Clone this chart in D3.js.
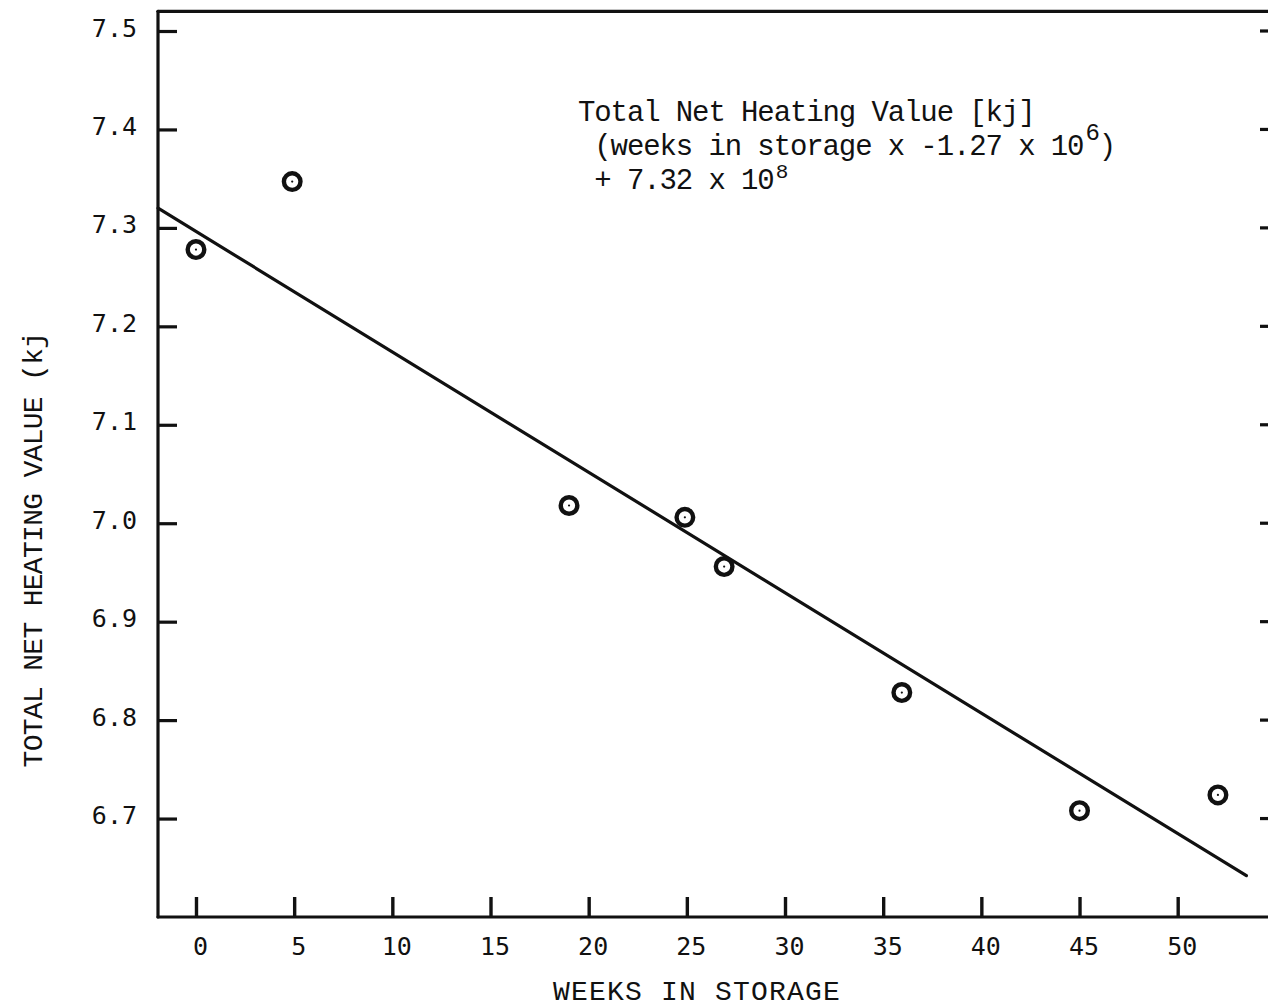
<!DOCTYPE html>
<html>
<head>
<meta charset="utf-8">
<script src="https://cdn.jsdelivr.net/npm/d3@7"></script>
<style>
  html, body { margin: 0; padding: 0; background: #fff; }
  svg { display: block; }
</style>
</head>
<body>
<svg id="chart" width="1268" height="1007"></svg>
<script>
// Weeks in storage and measured total net heating value (x 10^8 kJ)
const weeks = [0, 4.9, 19, 24.9, 26.9, 35.95, 45, 52.05];
const heatingValues = [7.278, 7.347, 7.018, 7.006, 6.956, 6.828, 6.708, 6.724];

// Least-squares fit line, drawn between these end points
const fitWeeks = [-1.93, 53.5];
const fitValues = [7.32, 6.642];

const xTicks = [0, 5, 10, 15, 20, 25, 30, 35, 40, 45, 50];
const yTicks = [6.7, 6.8, 6.9, 7.0, 7.1, 7.2, 7.3, 7.4, 7.5];

const xDomain = [-1.935, 54.6];
const yDomain = [6.6, 7.5];
const yTop = 7.52;

const svg = d3.select("#chart");
const ink = "#111";

const x = d3.scaleLinear().domain(xDomain).range([158, 1268]);
const y = d3.scaleLinear().domain(yDomain).range([917, 31]);

const monoSans = "'DejaVu Sans Mono', monospace";
const typewriter = "'Liberation Mono', 'Courier New', monospace";

// Frame: left axis, bottom axis and top rule
const frame = svg.append("g").attr("stroke", ink).attr("stroke-width", 3.2)
  .attr("stroke-linecap", "round").attr("fill", "none");
frame.append("line").attr("x1", x(xDomain[0])).attr("x2", x(xDomain[0]))
  .attr("y1", y(yTop)).attr("y2", y(yDomain[0]));
frame.append("line").attr("x1", x(xDomain[0])).attr("x2", x(xDomain[1]))
  .attr("y1", y(yDomain[0])).attr("y2", y(yDomain[0]));
frame.append("line").attr("x1", x(xDomain[0])).attr("x2", x(xDomain[1]))
  .attr("y1", y(yTop)).attr("y2", y(yTop));

// Left axis: inward ticks, labels outside
const yAxis = d3.axisLeft(y).tickValues(yTicks).tickFormat(d3.format(".1f"))
  .tickSizeInner(-19).tickSizeOuter(0).tickPadding(21);
const gy = svg.append("g").attr("transform", `translate(${x(xDomain[0])},0)`).call(yAxis);
gy.select(".domain").remove();
gy.selectAll(".tick line").attr("stroke", ink).attr("stroke-width", 3.2);
gy.selectAll(".tick text").attr("fill", ink).attr("font-family", monoSans)
  .attr("font-size", 25).attr("dy", "0.2em").attr("dx", "0");

// Right side tick stubs
svg.append("g").selectAll("line").data(yTicks).join("line")
  .attr("x1", 1260).attr("x2", 1272)
  .attr("y1", d => y(d)).attr("y2", d => y(d))
  .attr("stroke", ink).attr("stroke-width", 3.2);

// Bottom axis: upward ticks
const xAxis = d3.axisBottom(x).tickValues(xTicks).tickFormat(d3.format("d"))
  .tickSizeInner(-20).tickSizeOuter(0).tickPadding(20);
const gx = svg.append("g").attr("transform", `translate(0,${y(yDomain[0])})`).call(xAxis);
gx.select(".domain").remove();
gx.selectAll(".tick line").attr("stroke", ink).attr("stroke-width", 3.4);
gx.selectAll(".tick text").attr("fill", ink).attr("font-family", monoSans)
  .attr("font-size", 25).attr("dx", 4);

// Regression line
const line = d3.line().x(d => x(d[0])).y(d => y(d[1]));
svg.append("path")
  .datum(d3.zip(fitWeeks, fitValues))
  .attr("d", line)
  .attr("fill", "none").attr("stroke", ink).attr("stroke-width", 3.2)
  .attr("stroke-linecap", "round");

// Observations: open circles with a centre dot
const pts = svg.append("g").selectAll("g").data(d3.zip(weeks, heatingValues)).join("g")
  .attr("transform", d => `translate(${x(d[0])},${y(d[1])})`);
pts.append("circle").attr("r", 8.3).attr("fill", "#fff")
  .attr("stroke", ink).attr("stroke-width", 4.4);
pts.append("circle").attr("r", 1.1).attr("fill", ink);

// Fit equation
const eq = svg.append("g").attr("font-family", typewriter).attr("font-size", 29)
  .attr("letter-spacing", -1.1).attr("fill", ink);
eq.append("text").attr("x", 578).attr("y", 121).text("Total Net Heating Value [kj]");
const l2 = eq.append("text").attr("x", 578).attr("y", 155).attr("xml:space", "preserve");
l2.append("tspan").text(" (weeks in storage x -1.27 x 10");
l2.append("tspan").attr("dx", 2).attr("dy", -15).attr("font-size", 24).text("6");
l2.append("tspan").attr("dy", 15).text(")");
const l3 = eq.append("text").attr("x", 578).attr("y", 189).attr("xml:space", "preserve");
l3.append("tspan").text(" + 7.32 x 10");
l3.append("tspan").attr("dx", 2).attr("dy", -11).attr("font-size", 21).text("8");

// Axis titles
svg.append("text")
  .attr("transform", "translate(42,550) rotate(-90)")
  .attr("text-anchor", "middle")
  .attr("font-family", typewriter).attr("font-size", 28)
  .attr("letter-spacing", -0.7).attr("fill", ink)
  .text("TOTAL NET HEATING VALUE (kj");

svg.append("text")
  .attr("x", 697).attr("y", 1000)
  .attr("text-anchor", "middle")
  .attr("font-family", typewriter).attr("font-size", 28)
  .attr("letter-spacing", 1.2).attr("fill", ink)
  .text("WEEKS IN STORAGE");
</script>
</body>
</html>
